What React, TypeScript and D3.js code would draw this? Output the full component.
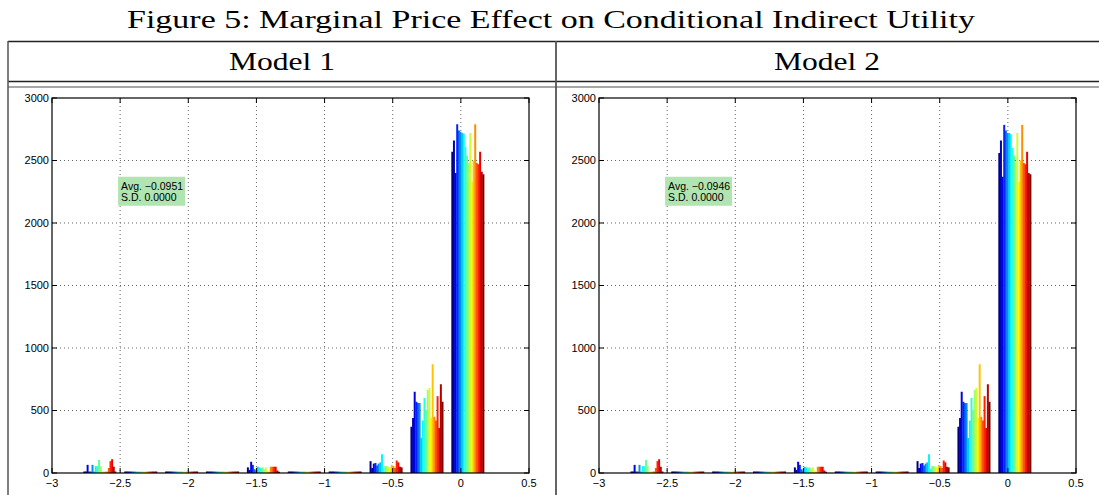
import React from "react";
import * as d3 from "d3";

const W = 1099;
const H = 495;

// axis ticks shared by both panels
const xTicks = [-3, -2.5, -2, -1.5, -1, -0.5, 0, 0.5];
const yTicks = [0, 500, 1000, 1500, 2000, 2500, 3000];

// histogram bin centres, 20 series per bin (jet colours)
const binCenters = [-2.65, -2.35, -2.05, -1.75, -1.45, -1.15, -0.85, -0.55, -0.25, 0.05];
const groupWidth = 0.24;
const seriesCount = 20;

const emptyBin = [0, 0, 0, 0, 0, 0, 0, 0, 0, 0, 0, 0, 0, 0, 0, 0, 0, 0, 0, 0];

// Model 1 counts
const m1Bin265 = [0, 0, 65, 0, 0, 65, 0, 55, 55, 105, 55, 0, 0, 0, 0, 40, 95, 110, 50, 0];
const m1Bin145 = [45, 25, 90, 65, 30, 20, 50, 45, 40, 45, 30, 45, 20, 10, 50, 50, 50, 50, 20, 10];
const m1Bin055 = [95, 40, 75, 80, 60, 75, 85, 150, 35, 55, 55, 50, 45, 65, 55, 40, 100, 85, 50, 45];
const m1Bin025 = [370, 440, 650, 570, 560, 560, 280, 420, 600, 505, 665, 680, 440, 870, 450, 420, 615, 360, 710, 570];
const m1Bin005 = [2570, 2660, 2400, 2790, 2740, 2730, 2720, 2715, 2610, 2540, 2480, 2720, 2330, 2500, 2790, 2480, 2470, 2570, 2410, 2390];

// Model 2 counts
const m2Bin265 = [0, 0, 65, 0, 0, 65, 0, 55, 55, 105, 55, 0, 0, 0, 0, 40, 95, 110, 50, 0];
const m2Bin145 = [45, 25, 90, 65, 30, 20, 50, 45, 40, 45, 30, 45, 20, 10, 50, 50, 50, 50, 20, 10];
const m2Bin055 = [95, 40, 75, 80, 60, 75, 85, 150, 35, 55, 55, 50, 45, 65, 55, 40, 100, 85, 50, 45];
const m2Bin025 = [370, 440, 650, 570, 560, 560, 280, 420, 600, 505, 665, 680, 440, 870, 450, 420, 615, 360, 710, 570];
const m2Bin005 = [2560, 2660, 2370, 2785, 2740, 2720, 2720, 2710, 2600, 2540, 2480, 2720, 2330, 2500, 2785, 2480, 2470, 2570, 2400, 2390];

const model1Bins = [m1Bin265, emptyBin, emptyBin, emptyBin, m1Bin145, emptyBin, emptyBin, m1Bin055, m1Bin025, m1Bin005];
const model2Bins = [m2Bin265, emptyBin, emptyBin, emptyBin, m2Bin145, emptyBin, emptyBin, m2Bin055, m2Bin025, m2Bin005];

const panels = [
  { title: "Model 1", bins: model1Bins, avg: "Avg. \u22120.0951", sd: "S.D. 0.0000", left: 52, center: 282 },
  { title: "Model 2", bins: model2Bins, avg: "Avg. \u22120.0946", sd: "S.D. 0.0000", left: 599, center: 827 }
];

const plotTop = 98;
const plotW = 477;
const plotH = 375;

const fmt = (v: number) => (v < 0 ? "\u2212" + Math.abs(v) : String(v));

// matlab-ish jet colormap
const jet = (t: number) => {
  const c = (v: number) => Math.round(255 * Math.max(0, Math.min(1, v)));
  return `rgb(${c(1.5 - Math.abs(4 * t - 3))},${c(1.5 - Math.abs(4 * t - 2))},${c(1.5 - Math.abs(4 * t - 1))})`;
};

function Histogram({ left, bins, avg, sd }: any) {
  const x = d3.scaleLinear().domain([-3, 0.5]).range([0, plotW]);
  const y = d3.scaleLinear().domain([0, 3000]).range([plotH, 0]);
  const series = d3.range(seriesCount);

  const bars: any[] = [];
  bins.forEach((counts: number[], bi: number) => {
    const c = binCenters[bi];
    const band = d3
      .scaleBand<number>()
      .domain(series)
      .range([x(c - groupWidth / 2), x(c + groupWidth / 2)]);
    counts.forEach((v, si) => {
      const top = v > 0 ? y(v) : plotH - 1.5;
      bars.push({
        key: `${bi}-${si}`,
        x: band(si),
        w: band.bandwidth() + 0.35,
        y: top,
        h: plotH - top,
        fill: jet(si / (seriesCount - 1))
      });
    });
  });

  const tickLen = 5;
  const annX = x(-2.515);
  const annY = y(2370);

  return (
    <g transform={`translate(${left},${plotTop})`} fontFamily="'Liberation Sans', Arial, sans-serif">
      <rect x={0} y={0} width={plotW} height={plotH} fill="#fff" />
      {/* grid */}
      {xTicks.slice(1, -1).map((t) => (
        <line key={"gx" + t} x1={x(t)} x2={x(t)} y1={0} y2={plotH} stroke="#666" strokeWidth={1} strokeDasharray="1,3" />
      ))}
      {yTicks.slice(1, -1).map((t) => (
        <line key={"gy" + t} x1={0} x2={plotW} y1={y(t)} y2={y(t)} stroke="#666" strokeWidth={1} strokeDasharray="1,3" />
      ))}
      {/* bars */}
      {bars.map((b) => (
        <rect key={b.key} x={b.x} y={b.y} width={b.w} height={b.h} fill={b.fill} />
      ))}
      {/* axes box and ticks */}
      <rect x={0} y={0} width={plotW} height={plotH} fill="none" stroke="#000" strokeWidth={1.2} />
      {xTicks.map((t) => (
        <g key={"tx" + t}>
          <line x1={x(t)} x2={x(t)} y1={plotH} y2={plotH - tickLen} stroke="#000" />
          <line x1={x(t)} x2={x(t)} y1={0} y2={tickLen} stroke="#000" />
          <text x={x(t)} y={plotH + 14} fontSize={11} textAnchor="middle" fill="#000">
            {fmt(t)}
          </text>
        </g>
      ))}
      {yTicks.map((t) => (
        <g key={"ty" + t}>
          <line x1={0} x2={tickLen} y1={y(t)} y2={y(t)} stroke="#000" />
          <line x1={plotW} x2={plotW - tickLen} y1={y(t)} y2={y(t)} stroke="#000" />
          <text x={-3} y={y(t)} dy="0.35em" fontSize={11} textAnchor="end" fill="#000">
            {t}
          </text>
        </g>
      ))}
      {/* annotation */}
      <rect x={annX} y={annY} width={67} height={29} fill="rgb(176,228,176)" />
      <text x={annX + 3} y={annY + 13} fontSize={10.5} fill="#000">
        {avg}
      </text>
      <text x={annX + 3} y={annY + 24} fontSize={10.5} fill="#000">
        {sd}
      </text>
    </g>
  );
}

export default function App() {
  return (
    <svg
      width={W}
      height={H}
      style={{ position: "absolute", left: 0, top: 0, background: "#fff" }}
    >
      <rect x={0} y={0} width={W} height={H} fill="#fff" />
      <text
        x={551}
        y={28}
        fontSize={26}
        textAnchor="middle"
        fontFamily="'Liberation Serif', 'DejaVu Serif', serif"
        textLength={848}
        lengthAdjust="spacingAndGlyphs"
      >
        Figure 5: Marginal Price Effect on Conditional Indirect Utility
      </text>
      {/* table rules */}
      <line x1={8} x2={W} y1={41.5} y2={41.5} stroke="#222" strokeWidth={1.3} />
      <line x1={8} x2={W} y1={81.5} y2={81.5} stroke="#222" strokeWidth={1.3} />
      <line x1={8} x2={W} y1={87} y2={87} stroke="#888" strokeWidth={1.3} />
      <line x1={8} x2={8} y1={41} y2={H} stroke="#555" strokeWidth={1.5} />
      <line x1={556} x2={556} y1={41} y2={H} stroke="#555" strokeWidth={1.8} />
      {panels.map((p) => (
        <text
          key={p.title}
          x={p.center}
          y={70}
          fontSize={26}
          textAnchor="middle"
          fontFamily="'Liberation Serif', 'DejaVu Serif', serif"
          textLength={106}
          lengthAdjust="spacingAndGlyphs"
        >
          {p.title}
        </text>
      ))}
      {panels.map((p) => (
        <Histogram key={"h" + p.title} left={p.left} bins={p.bins} avg={p.avg} sd={p.sd} />
      ))}
    </svg>
  );
}
